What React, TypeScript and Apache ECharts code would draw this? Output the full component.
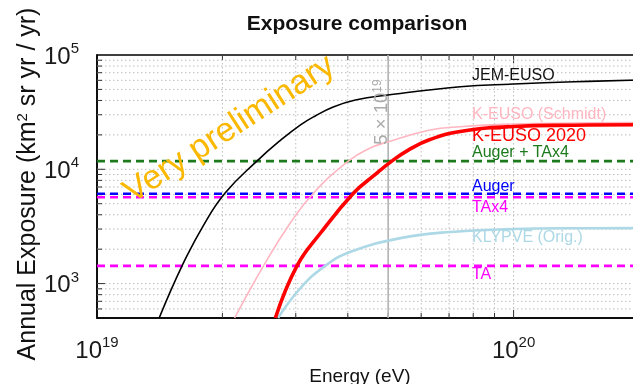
import React, { useEffect, useRef } from "react";
import * as echarts from "echarts";

// Axis extents
const X_MIN = 1e19;
const X_MAX = 2e20;
const Y_MIN = 500;
const Y_MAX = 1e5;

// Grid / tick values (dotted grid lines)
const xGridValues = [2e19, 3e19, 4e19, 5e19, 6e19, 7e19, 8e19, 9e19, 1e20, 2e20];
const yGridValues = [
  600, 700, 800, 900, 1e3, 2e3, 3e3, 4e3, 5e3, 6e3, 7e3, 8e3, 9e3, 1e4, 2e4, 3e4, 4e4, 5e4, 6e4, 7e4, 8e4, 9e4,
];
const majorValues = [1e19, 1e20, 1e3, 1e4, 1e5];
const markerEnergy = 5e19;

// Curves
const jemEnergy = [1.41e19, 1.6e19, 1.8e19, 2.03e19, 2.42e19, 2.76e19, 3.08e19, 3.34e19, 3.69e19, 4.17e19, 4.99e19, 7.45e19, 1e20, 1.4e20, 2e20];
const jemExposure = [500, 1430, 3220, 6200, 11800, 18000, 24500, 29300, 35100, 40400, 44700, 52800, 55700, 58300, 60500];

const kEusoSchmidtEnergy = [2.14e19, 2.51e19, 2.9e19, 3.31e19, 4.01e19, 4.5e19, 5e19, 6.3e19, 7.45e19, 1e20, 1.4e20, 2e20];
const kEusoSchmidtExposure = [500, 1430, 3320, 6200, 11800, 15200, 17400, 22100, 23600, 24900, 25400, 25600];

const kEuso2020Energy = [2.68e19, 3.02e19, 3.44e19, 4.13e19, 4.6e19, 5.1e19, 5.6e19, 6.3e19, 7.45e19, 1e20, 1.4e20, 2e20];
const kEuso2020Exposure = [500, 1430, 2770, 6200, 8700, 11800, 14800, 18200, 21400, 23700, 24300, 24500];

const klypveEnergy = [2.72e19, 3.08e19, 3.53e19, 4.05e19, 5.35e19, 7.05e19, 1e20, 1.4e20, 2e20];
const klypveExposure = [500, 915, 1430, 1890, 2500, 2830, 3000, 3050, 3060];

// Flat (energy independent) exposures
const flatNames = ["Auger + TAx4", "Auger", "TAx4", "TA"];
const flatExposure = [11800, 6110, 5700, 1430];
const flatColors = ["#1c7a1c", "#0000ff", "#ff00ff", "#ff00ff"];

// Right-hand labels
const labelTexts = ["JEM-EUSO", "K-EUSO (Schmidt)", "K-EUSO 2020", "Auger + TAx4", "Auger", "TAx4", "KLYPVE (Orig.)", "TA"];
const labelColors = ["#111111", "#ffb6c1", "#ff0000", "#1c7a1c", "#0000ff", "#ff00ff", "#add8e6", "#ff00ff"];
const labelY = [74, 113, 135, 151, 185, 206, 236, 273];
const labelSizes = [16, 16, 18, 16, 16, 16, 16, 16];

const FONT = "'Liberation Sans', Arial, Helvetica, sans-serif";

const pairs = (xs: number[], ys: number[]) => xs.map((x, i) => [x, ys[i]]);

const tickFormatter = (v: number) => {
  const e = Math.log10(v);
  if (Math.abs(e - Math.round(e)) > 1e-6) return "";
  return `{b|10}{s|${Math.round(e)}}`;
};

const tickRich = {
  b: { fontSize: 24, fontFamily: FONT, color: "#1a1a1a", lineHeight: 30 },
  s: { fontSize: 15, fontFamily: FONT, color: "#1a1a1a", verticalAlign: "top" as const, lineHeight: 16 },
};

export default function App() {
  const ref = useRef<HTMLDivElement>(null);

  useEffect(() => {
    if (!ref.current) return;
    const chart = echarts.init(ref.current, undefined, { renderer: "svg" });

    const curve = (name: string, xs: number[], ys: number[], color: string, width: number, z: number) => ({
      name,
      type: "line",
      data: pairs(xs, ys),
      showSymbol: false,
      symbol: "none",
      smooth: 0.45,
      lineStyle: { color, width },
      z,
      silent: true,
    });

    const flatSeries = flatNames.map((n, i) => ({
      name: n,
      type: "line",
      data: [
        [X_MIN, flatExposure[i]],
        [X_MAX, flatExposure[i]],
      ],
      showSymbol: false,
      symbol: "none",
      lineStyle: { color: flatColors[i], width: 2.6, type: [8, 5] },
      z: 3 + i,
      silent: true,
    }));

    const option: any = {
      animation: false,
      grid: { left: 97, top: 55, width: 542, height: 263, show: true, borderColor: "#000", borderWidth: 1.5, backgroundColor: "transparent" },
      xAxis: {
        type: "log",
        logBase: 10,
        min: X_MIN,
        max: X_MAX,
        axisLine: { show: true, lineStyle: { color: "#000", width: 1.5 } },
        axisTick: { show: false },
        splitLine: { show: false },
        axisLabel: { formatter: tickFormatter, rich: tickRich, margin: 16, hideOverlap: false },
      },
      yAxis: {
        type: "log",
        logBase: 10,
        min: Y_MIN,
        max: Y_MAX,
        axisLine: { show: true, lineStyle: { color: "#000", width: 1.5 } },
        axisTick: { show: false },
        splitLine: { show: false },
        axisLabel: { formatter: tickFormatter, rich: tickRich, margin: 18 },
      },
      series: [
        {
          type: "custom",
          silent: true,
          z: 1,
          data: [[X_MIN, Y_MIN]],
          renderItem: (_params: any, api: any) => {
            const children: any[] = [];
            const [left, bottom] = api.coord([X_MIN, Y_MIN]);
            const [right, top] = api.coord([X_MAX, Y_MAX]);
            const grid = { stroke: "#bdbdbd", lineWidth: 1, lineDash: [1.5, 2.5] };
            const tick = { stroke: "#333", lineWidth: 1 };
            for (const xv of xGridValues) {
              const px = api.coord([xv, Y_MIN])[0];
              children.push({ type: "line", shape: { x1: px, y1: top, x2: px, y2: bottom }, style: grid });
              const len = majorValues.includes(xv) ? 8 : 5;
              children.push({ type: "line", shape: { x1: px, y1: bottom, x2: px, y2: bottom - len }, style: tick });
              children.push({ type: "line", shape: { x1: px, y1: top, x2: px, y2: top + len }, style: tick });
            }
            for (const yv of yGridValues) {
              const py = api.coord([X_MIN, yv])[1];
              children.push({ type: "line", shape: { x1: left, y1: py, x2: right, y2: py }, style: grid });
              const len = majorValues.includes(yv) ? 8 : 5;
              children.push({ type: "line", shape: { x1: left, y1: py, x2: left + len, y2: py }, style: tick });
            }
            const mx = api.coord([markerEnergy, Y_MIN])[0];
            children.push({ type: "line", shape: { x1: mx, y1: top, x2: mx, y2: bottom }, style: { stroke: "#b4b4b4", lineWidth: 1.6 } });
            return { type: "group", children };
          },
        },
        ...flatSeries,
        curve("KLYPVE (Orig.)", klypveEnergy, klypveExposure, "#add8e6", 2.6, 8),
        curve("K-EUSO (Schmidt)", kEusoSchmidtEnergy, kEusoSchmidtExposure, "#ffb6c1", 1.6, 9),
        curve("K-EUSO 2020", kEuso2020Energy, kEuso2020Exposure, "#ff0000", 3.6, 10),
        curve("JEM-EUSO", jemEnergy, jemExposure, "#000000", 1.6, 11),
      ],
      graphic: [
        {
          type: "text",
          x: 357,
          y: 22,
          z: 100,
          style: { text: "Exposure comparison", fontSize: 21, fontWeight: "bold", fontFamily: FONT, fill: "#111", align: "center", verticalAlign: "middle" },
        },
        {
          type: "text",
          x: 360,
          y: 375,
          z: 100,
          style: { text: "Energy (eV)", fontSize: 19, fontFamily: FONT, fill: "#111", align: "center", verticalAlign: "middle" },
        },
        {
          type: "text",
          x: 26,
          y: 184,
          rotation: Math.PI / 2,
          z: 100,
          style: {
            text: "Annual Exposure (km{s|2} sr yr / yr)",
            fontSize: 25,
            fontFamily: FONT,
            fill: "#111",
            align: "center",
            verticalAlign: "middle",
            rich: { s: { fontSize: 15, fontFamily: FONT, fill: "#111", verticalAlign: "top" } },
          },
        },
        {
          type: "text",
          x: 380,
          y: 112,
          rotation: Math.PI / 2,
          z: 100,
          style: {
            text: "5 × 10{s|19}",
            fontSize: 18.5,
            fontFamily: FONT,
            fill: "#aaaaaa",
            align: "center",
            verticalAlign: "middle",
            rich: { s: { fontSize: 12, fontFamily: FONT, fill: "#aaaaaa", verticalAlign: "top" } },
          },
        },
        {
          type: "text",
          x: 228,
          y: 127,
          rotation: (33 * Math.PI) / 180,
          z: 100,
          style: { text: "Very preliminary", fontSize: 34, fontFamily: FONT, fill: "#fbb800", align: "center", verticalAlign: "middle" },
        },
        ...labelTexts.map((t, i) => ({
          type: "text",
          x: 472,
          y: labelY[i],
          z: 100,
          style: { text: t, fontSize: labelSizes[i], fontFamily: FONT, fill: labelColors[i], align: "left", verticalAlign: "middle" },
        })),
      ],
    };

    chart.setOption(option);
    return () => chart.dispose();
  }, []);

  return <div ref={ref} style={{ position: "fixed", left: 0, top: 0, width: 645, height: 384 }} />;
}
